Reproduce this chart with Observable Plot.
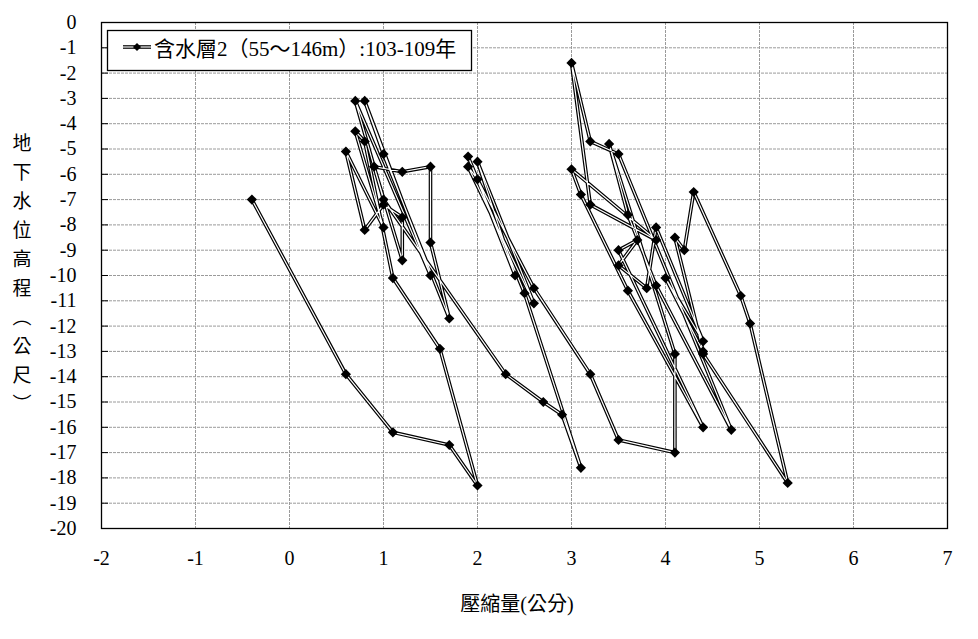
<!DOCTYPE html>
<html>
<head>
<meta charset="utf-8">
<script src="https://cdn.jsdelivr.net/npm/d3@7"></script>
<script src="https://cdn.jsdelivr.net/npm/@observablehq/plot@0.6"></script>
<style>
  html, body { margin: 0; padding: 0; background: #fff; }
  #chart { width: 978px; height: 639px; }
  #chart svg text { font-family: "Liberation Serif", "Times New Roman", "Noto Sans CJK TC", serif; }
</style>
</head>
<body>
<div id="chart"></div>
<script>
// Compression (cm) and groundwater level (m), in series order
const compression = [
  -0.4, 0.6, 1.1, 1.7, 2.0, 1.6, 1.1, 0.8, 0.7, 1.0, 0.6, 0.8, 1.0, 1.2, 1.2, 0.9, 1.2, 1.5, 1.5, 1.7, 1.0, 0.8, 1.5, 0.7, 1.0,
  2.3, 2.7, 2.9, 3.1, 2.5, 1.9, 2.4, 2.0, 2.6, 1.9, 2.0, 2.6, 3.2, 3.5, 4.1, 4.1,
  3.4, 3.6, 3.9, 4.7, 3.5, 3.2, 3.0, 3.2, 3.9, 3.0, 3.1, 3.6, 4.4, 3.5, 3.7, 3.5, 3.8, 3.9, 4.4, 4.0,
  4.4, 4.1, 4.2, 4.3, 4.8, 4.9, 5.3, 4.4
];
const level = [
  -7.0, -13.9, -16.2, -16.7, -18.3, -12.9, -10.1, -4.7, -4.3, -8.1, -5.1, -8.2, -7.2, -7.7, -9.4, -5.7, -5.9, -5.7, -8.7, -11.7, -5.2, -3.1, -10.0, -3.1, -7.0,
  -13.9, -15.0, -15.5, -17.6, -10.7, -5.3, -10.0, -5.5, -11.1, -5.7, -6.2, -10.5, -13.9, -16.5, -17.0, -13.1,
  -4.8, -7.6, -10.4, -16.1, -5.2, -4.7, -1.6, -7.2, -8.6, -5.8, -6.8, -10.6, -16.0, -9.0, -8.6, -9.6, -10.5, -8.1, -12.6, -10.1,
  -13.0, -8.5, -9.0, -6.7, -10.8, -11.9, -18.2, -13.1
];
const xTicks = [-2, -1, 0, 1, 2, 3, 4, 5, 6, 7];
const yTicks = [0, -1, -2, -3, -4, -5, -6, -7, -8, -9, -10, -11, -12, -13, -14, -15, -16, -17, -18, -19, -20];
const seriesName = "含水層2（55～146m）:103-109年";
const xLabel = "壓縮量(公分)";
const yLabel = "地下水位高程（公尺）";

const data = compression.map((x, i) => ({x, y: level[i]}));
const font = '"Liberation Serif", "Times New Roman", "Noto Sans CJK TC", serif';

const chart = Plot.plot({
  width: 978,
  height: 639,
  marginLeft: 101,
  marginRight: 31,
  marginTop: 22,
  marginBottom: 111,
  style: {fontFamily: font, fontSize: "20px", background: "#fff", color: "#000", overflow: "visible"},
  x: {domain: [-2, 7]},
  y: {domain: [-20, 0]},
  marks: [
    Plot.gridX(xTicks, {stroke: "#9a9a9a", strokeOpacity: 1, strokeWidth: 1, strokeDasharray: "3,1"}),
    Plot.gridY(yTicks, {stroke: "#9a9a9a", strokeOpacity: 1, strokeWidth: 1, strokeDasharray: "3,1"}),
    Plot.frame({stroke: "#000", strokeWidth: 1.3}),
    Plot.axisX(xTicks, {anchor: "bottom", tickSize: 0, tickPadding: 22, label: null, fontSize: 20, fontFamily: font, tickFormat: d => String(d)}),
    Plot.axisY(yTicks, {anchor: "left", tickSize: -7, tickPadding: 32, label: null, fontSize: 20, fontFamily: font, tickFormat: d => String(d), stroke: "#000"}),
    Plot.line(data, {x: "x", y: "y", stroke: "#000", strokeWidth: 3.6, strokeLinejoin: "miter"}),
    Plot.line(data, {x: "x", y: "y", stroke: "#fff", strokeWidth: 1.2}),
    Plot.dot(data, {x: "x", y: "y", symbol: "diamond2", r: 4.6, fill: "#000", stroke: "none"})
  ]
});

document.getElementById("chart").appendChild(chart);

const svg = d3.select(chart);

// X axis title
svg.append("text")
  .attr("x", 517).attr("y", 611)
  .attr("text-anchor", "middle")
  .style("font-size", "20px")
  .text(xLabel);

// Y axis title (vertical)
svg.append("text")
  .attr("x", 20).attr("y", 133)
  .attr("text-anchor", "start")
  .attr("writing-mode", "vertical-rl")
  .style("writing-mode", "vertical-rl")
  .style("font-size", "19px")
  .style("letter-spacing", "10px")
  .text(yLabel);

// Legend
const lg = svg.append("g");
lg.append("rect")
  .attr("x", 107.5).attr("y", 30.5).attr("width", 364).attr("height", 40)
  .attr("fill", "#fff").attr("stroke", "#000").attr("stroke-width", 1.3);
lg.append("line").attr("x1", 123).attr("x2", 151).attr("y1", 47).attr("y2", 47)
  .attr("stroke", "#000").attr("stroke-width", 3.6);
lg.append("line").attr("x1", 123).attr("x2", 151).attr("y1", 47).attr("y2", 47)
  .attr("stroke", "#fff").attr("stroke-width", 1.2);
lg.append("path").attr("d", d3.symbol(d3.symbolDiamond2, 4.6 * 4.6 * 2)())
  .attr("transform", "translate(137,47)").attr("fill", "#000");
lg.append("text")
  .attr("x", 154).attr("y", 56)
  .attr("text-anchor", "start")
  .style("font-size", "21px")
  .text(seriesName);
</script>
</body>
</html>
